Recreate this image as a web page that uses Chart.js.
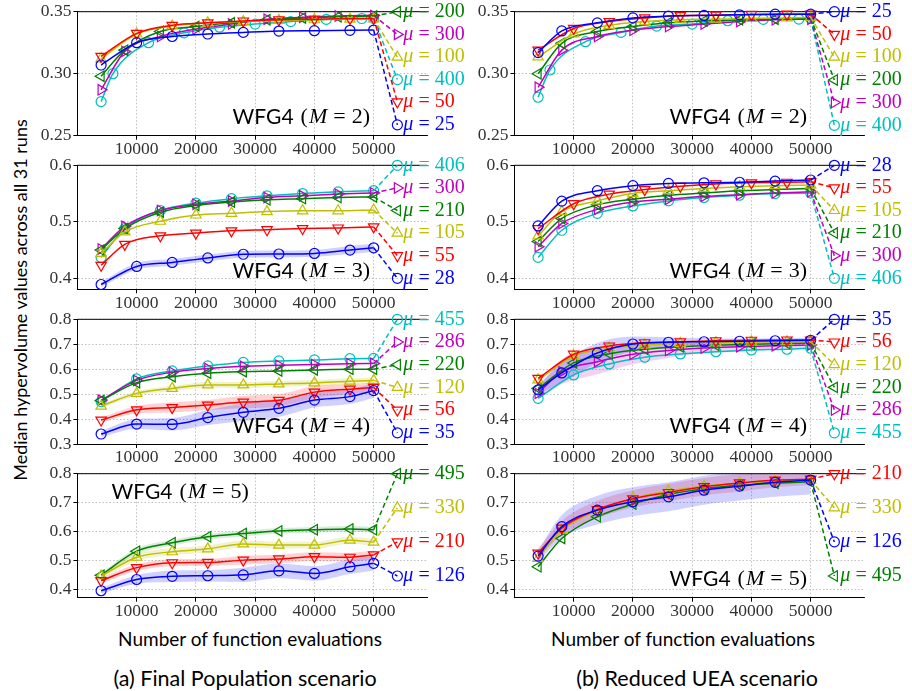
<!DOCTYPE html>
<html>
<head>
<meta charset="utf-8">
<script src="https://cdn.jsdelivr.net/npm/chart.js@4/dist/chart.umd.min.js"></script>
<style>
  body { margin: 0; background: #fff; width: 912px; height: 691px; position: relative; overflow: hidden; }
  canvas { position: absolute; }
  .txt { position: absolute; font-family: Lato, sans-serif; font-size: 19px; color: #000; white-space: nowrap; transform: translate(-50%, -50%); }
  .ytitle { font-size: 18px; transform: translate(-50%, -50%) rotate(-90deg); }
  .cap { font-size: 21.5px; }
</style>
</head>
<body>
<div class="txt ytitle" style="left:20px; top:300px;">Median hypervolume values across all 31 runs</div>
<div class="txt" style="left:250px; top:638px;">Number of function evaluations</div>
<div class="txt" style="left:683px; top:638px;">Number of function evaluations</div>
<div class="txt cap" style="left:245px; top:678px;">(a) Final Population scenario</div>
<div class="txt cap" style="left:697px; top:678px;">(b) Reduced UEA scenario</div>
<script>
/* =========================================
   DATA
   ========================================= */
const evalsA = [4000, 10000, 16000, 22000, 28000, 34000, 40000, 46000, 50000];
const evalsB = [4000, 8000, 14000, 20000, 26000, 32000, 38000, 44000, 50000];
const evalsC = [4000, 6000, 12000, 18000, 24000, 30000, 36000, 42000, 48000, 50000];
const xTicks = [10000, 20000, 30000, 40000, 50000];
const labelEval = 54000;

// (a) Final Population, M = 2
const fpM2Mu = [25, 50, 100, 200, 300, 400];
const fpM2Evals = [evalsA, evalsA, evalsA, evalsB, evalsB, evalsC];
const fpM2Hv = [
  [0.307, 0.325, 0.330, 0.332, 0.3333, 0.3344, 0.3347, 0.3350, 0.3352],
  [0.314, 0.3325, 0.339, 0.341, 0.3425, 0.3435, 0.344, 0.3445, 0.3446],
  [0.312, 0.332, 0.3385, 0.341, 0.342, 0.343, 0.3435, 0.344, 0.3442],
  [0.298, 0.319, 0.334, 0.338, 0.341, 0.3435, 0.345, 0.346, 0.3465],
  [0.287, 0.318, 0.330, 0.336, 0.340, 0.344, 0.3455, 0.3465, 0.347],
  [0.2775, 0.300, 0.325, 0.333, 0.3375, 0.340, 0.342, 0.3438, 0.3445, 0.3446]
];
const fpM2LabelY = [0.2587, 0.2773, 0.3133, 0.35, 0.3317, 0.2953];
const fpM2Ticks = [0.25, 0.30, 0.35];

// (b) Reduced UEA, M = 2
const ruM2Mu = [25, 50, 100, 200, 300, 400];
const ruM2Evals = [evalsB, evalsA, evalsA, evalsB, evalsB, evalsC];
const ruM2Hv = [
  [0.317, 0.3345, 0.341, 0.345, 0.3465, 0.347, 0.3475, 0.348, 0.348],
  [0.319, 0.3365, 0.342, 0.345, 0.3468, 0.3472, 0.3478, 0.348, 0.348],
  [0.3135, 0.332, 0.339, 0.342, 0.3435, 0.344, 0.3445, 0.345, 0.3455],
  [0.300, 0.3245, 0.334, 0.338, 0.341, 0.3425, 0.3435, 0.344, 0.345],
  [0.289, 0.319, 0.330, 0.335, 0.338, 0.340, 0.342, 0.3435, 0.344],
  [0.281, 0.303, 0.3258, 0.3333, 0.3384, 0.340, 0.3427, 0.3438, 0.3440, 0.3446]
];
const ruM2LabelY = [0.35, 0.3317, 0.3133, 0.295, 0.2767, 0.2583];

// (a) M = 3
const fpM3Mu = [28, 55, 105, 210, 300, 406];
const fpM3Evals = [evalsA, evalsB, evalsB, evalsB, evalsB, evalsB];
const fpM3Hv = [
  [0.389, 0.421, 0.428, 0.436, 0.4425, 0.443, 0.444, 0.450, 0.454],
  [0.423, 0.460, 0.4752, 0.480, 0.484, 0.486, 0.488, 0.489, 0.491],
  [0.444, 0.482, 0.501, 0.512, 0.515, 0.518, 0.5195, 0.5195, 0.521],
  [0.450, 0.488, 0.517, 0.529, 0.535, 0.539, 0.541, 0.543, 0.544],
  [0.452, 0.492, 0.520, 0.531, 0.537, 0.543, 0.546, 0.549, 0.551],
  [0.437, 0.488, 0.520, 0.533, 0.541, 0.546, 0.550, 0.553, 0.555]
];
const fpM3Spread = [[0.004, 0.006, 0.006, 0.006, 0.006, 0.006, 0.006, 0.007, 0.007], null, null, null, null, null];
const fpM3LabelY = [0.40, 0.44, 0.48, 0.52, 0.56, 0.60];
const m3Ticks = [0.4, 0.5, 0.6];

// (b) M = 3
const ruM3Mu = [28, 55, 105, 210, 300, 406];
const ruM3Evals = [evalsB, evalsA, evalsB, evalsB, evalsB, evalsB];
const ruM3Hv = [
  [0.4926, 0.5366, 0.555, 0.564, 0.568, 0.569, 0.570, 0.572, 0.574],
  [0.488, 0.532, 0.549, 0.557, 0.563, 0.567, 0.569, 0.570, 0.571],
  [0.475, 0.518, 0.537, 0.550, 0.555, 0.559, 0.562, 0.564, 0.565],
  [0.465, 0.506, 0.530, 0.540, 0.547, 0.551, 0.555, 0.557, 0.559],
  [0.456, 0.497, 0.522, 0.535, 0.540, 0.545, 0.548, 0.551, 0.553],
  [0.437, 0.485, 0.515, 0.528, 0.537, 0.543, 0.547, 0.550, 0.551]
];
const ruM3LabelY = [0.60, 0.56, 0.52, 0.48, 0.44, 0.40];

// (a) M = 4
const fpM4Mu = [35, 56, 120, 220, 286, 455];
const fpM4Evals = [evalsA, evalsA, evalsA, evalsA, evalsA, evalsA];
const fpM4Hv = [
  [0.340, 0.380, 0.379, 0.406, 0.427, 0.443, 0.476, 0.490, 0.514],
  [0.396, 0.437, 0.446, 0.456, 0.468, 0.475, 0.508, 0.520, 0.527],
  [0.452, 0.503, 0.523, 0.537, 0.537, 0.541, 0.545, 0.552, 0.555],
  [0.474, 0.546, 0.570, 0.584, 0.590, 0.593, 0.597, 0.600, 0.600],
  [0.476, 0.555, 0.588, 0.603, 0.612, 0.616, 0.619, 0.622, 0.623],
  [0.470, 0.561, 0.593, 0.613, 0.627, 0.633, 0.637, 0.642, 0.643]
];
const fpM4Spread = [
  [0.012, 0.02, 0.025, 0.03, 0.035, 0.035, 0.03, 0.03, 0.03],
  [0.01, 0.015, 0.02, 0.02, 0.025, 0.025, 0.025, 0.02, 0.02],
  [0.008, 0.01, 0.01, 0.012, 0.012, 0.012, 0.012, 0.012, 0.012],
  null, null, null
];
const fpM4LabelY = [0.345, 0.436, 0.527, 0.618, 0.709, 0.80];
const m4Ticks = [0.3, 0.4, 0.5, 0.6, 0.7, 0.8];

// (b) M = 4
const ruM4Mu = [35, 56, 120, 220, 286, 455];
const ruM4Evals = [evalsB, evalsA, evalsA, evalsA, evalsB, evalsA];
const ruM4Hv = [
  [0.517, 0.585, 0.665, 0.701, 0.708, 0.710, 0.712, 0.714, 0.716],
  [0.563, 0.660, 0.693, 0.706, 0.710, 0.714, 0.716, 0.717, 0.717],
  [0.557, 0.653, 0.684, 0.697, 0.703, 0.706, 0.709, 0.710, 0.710],
  [0.523, 0.625, 0.662, 0.680, 0.690, 0.696, 0.700, 0.703, 0.705],
  [0.503, 0.590, 0.630, 0.660, 0.675, 0.685, 0.690, 0.694, 0.697],
  [0.483, 0.577, 0.621, 0.648, 0.661, 0.670, 0.677, 0.680, 0.684]
];
const ruM4Spread = [
  [0.02, 0.04, 0.04, 0.03, 0.02, 0.015, 0.01, 0.01, 0.01],
  null, null, null,
  [0.02, 0.05, 0.05, 0.04, 0.03, 0.02, 0.02, 0.015, 0.015],
  null
];
const ruM4LabelY = [0.80, 0.709, 0.618, 0.527, 0.436, 0.345];

// (a) M = 5
const fpM5Mu = [126, 210, 330, 495];
const fpM5Evals = [evalsA, evalsA, evalsA, evalsA];
const fpM5Hv = [
  [0.395, 0.434, 0.445, 0.447, 0.450, 0.464, 0.455, 0.478, 0.490],
  [0.430, 0.475, 0.492, 0.493, 0.501, 0.505, 0.513, 0.511, 0.519],
  [0.446, 0.511, 0.530, 0.540, 0.557, 0.553, 0.553, 0.570, 0.563],
  [0.449, 0.532, 0.561, 0.582, 0.593, 0.602, 0.606, 0.609, 0.606]
];
const fpM5Spread = [
  [0.01, 0.015, 0.02, 0.02, 0.025, 0.025, 0.025, 0.025, 0.025],
  [0.01, 0.012, 0.012, 0.012, 0.015, 0.015, 0.015, 0.015, 0.015],
  [0.01, 0.012, 0.012, 0.012, 0.012, 0.012, 0.012, 0.012, 0.012],
  [0.008, 0.01, 0.01, 0.01, 0.01, 0.01, 0.01, 0.01, 0.01]
];
const fpM5LabelY = [0.446, 0.564, 0.682, 0.80];
const m5Ticks = [0.4, 0.5, 0.6, 0.7, 0.8];

// (b) M = 5
const ruM5Mu = [126, 210, 330, 495];
const ruM5Evals = [evalsB, evalsB, evalsB, evalsB];
const ruM5Hv = [
  [0.515, 0.617, 0.674, 0.703, 0.720, 0.743, 0.757, 0.770, 0.778],
  [0.525, 0.612, 0.676, 0.713, 0.735, 0.755, 0.768, 0.778, 0.781],
  [0.507, 0.605, 0.672, 0.715, 0.740, 0.757, 0.767, 0.774, 0.778],
  [0.478, 0.576, 0.651, 0.695, 0.728, 0.748, 0.760, 0.767, 0.772]
];
const ruM5Spread = [
  [0.02, 0.04, 0.05, 0.05, 0.05, 0.05, 0.05, 0.05, 0.05],
  [0.015, 0.025, 0.03, 0.03, 0.03, 0.03, 0.03, 0.025, 0.02],
  null, null
];
const ruM5LabelY = [0.564, 0.80, 0.682, 0.446];

/* =========================================
   STYLES & LAYOUT
   ========================================= */
const seriesStyles = [
  { color: '#0000ff', band: 'rgba(0,0,255,0.18)',   shape: 'circle',   rot: 0,   r: 5 },
  { color: '#ff0000', band: 'rgba(255,0,0,0.18)',   shape: 'triangle', rot: 180, r: 6 },
  { color: '#bfbf00', band: 'rgba(191,191,0,0.2)',  shape: 'triangle', rot: 0,   r: 6 },
  { color: '#008000', band: 'rgba(0,128,0,0.15)',   shape: 'triangle', rot: -90, r: 6 },
  { color: '#bf00bf', band: 'rgba(191,0,191,0.18)', shape: 'triangle', rot: 90,  r: 6 },
  { color: '#00bfbf', band: 'rgba(0,191,191,0.18)', shape: 'circle',   rot: 0,   r: 5 }
];
const colLeft = [77.4, 514.4], colRight = [427, 864];
const rowTop = [11.7, 165.3, 319.3, 473.7], rowBottom = [135.7, 289.3, 444, 597.7];
const serif = '"Liberation Serif", "DejaVu Serif", serif';

const panels = [
  { col: 0, row: 0, m: 2, mu: fpM2Mu, evals: fpM2Evals, hv: fpM2Hv, spread: null, labelY: fpM2LabelY, ticks: fpM2Ticks, yMin: 0.25, yMax: 0.35, dec: 2, corner: 'br' },
  { col: 1, row: 0, m: 2, mu: ruM2Mu, evals: ruM2Evals, hv: ruM2Hv, spread: null, labelY: ruM2LabelY, ticks: fpM2Ticks, yMin: 0.25, yMax: 0.35, dec: 2, corner: 'br' },
  { col: 0, row: 1, m: 3, mu: fpM3Mu, evals: fpM3Evals, hv: fpM3Hv, spread: fpM3Spread, labelY: fpM3LabelY, ticks: m3Ticks, yMin: 0.3805, yMax: 0.6, dec: 1, corner: 'br' },
  { col: 1, row: 1, m: 3, mu: ruM3Mu, evals: ruM3Evals, hv: ruM3Hv, spread: null, labelY: ruM3LabelY, ticks: m3Ticks, yMin: 0.3805, yMax: 0.6, dec: 1, corner: 'br' },
  { col: 0, row: 2, m: 4, mu: fpM4Mu, evals: fpM4Evals, hv: fpM4Hv, spread: fpM4Spread, labelY: fpM4LabelY, ticks: m4Ticks, yMin: 0.3, yMax: 0.8, dec: 1, corner: 'br' },
  { col: 1, row: 2, m: 4, mu: ruM4Mu, evals: ruM4Evals, hv: ruM4Hv, spread: ruM4Spread, labelY: ruM4LabelY, ticks: m4Ticks, yMin: 0.3, yMax: 0.8, dec: 1, corner: 'br' },
  { col: 0, row: 3, m: 5, mu: fpM5Mu, evals: fpM5Evals, hv: fpM5Hv, spread: fpM5Spread, labelY: fpM5LabelY, ticks: m5Ticks, yMin: 0.371, yMax: 0.8, dec: 1, corner: 'tl' },
  { col: 1, row: 3, m: 5, mu: ruM5Mu, evals: ruM5Evals, hv: ruM5Hv, spread: ruM5Spread, labelY: ruM5LabelY, ticks: m5Ticks, yMin: 0.371, yMax: 0.8, dec: 1, corner: 'br' }
];

/* =========================================
   DATASET BUILDER
   ========================================= */
function buildDatasets(p) {
  const ds = [];
  p.hv.forEach((vals, i) => {
    const st = seriesStyles[i];
    const xs = p.evals[i];
    const sp = p.spread ? p.spread[i] : null;
    if (sp) {
      ds.push({ data: vals.map((v, j) => ({ x: xs[j], y: v - sp[j] })), borderWidth: 0, pointRadius: 0,
                fill: false, cubicInterpolationMode: 'monotone', order: 5 });
      ds.push({ data: vals.map((v, j) => ({ x: xs[j], y: v + sp[j] })), borderWidth: 0, pointRadius: 0,
                fill: '-1', backgroundColor: st.band, cubicInterpolationMode: 'monotone', order: 5 });
    }
    // main curve with hollow markers
    ds.push({
      data: vals.map((v, j) => ({ x: xs[j], y: v })),
      borderColor: st.color, borderWidth: 1.5, fill: false,
      cubicInterpolationMode: 'monotone',
      pointStyle: st.shape, pointRotation: st.rot, pointRadius: st.r,
      pointBorderColor: st.color, pointBackgroundColor: 'rgba(0,0,0,0)', pointBorderWidth: 1.2,
      clip: false, order: 1
    });
    // dashed leader to the label
    ds.push({
      data: [{ x: xs[xs.length - 1], y: vals[vals.length - 1] }, { x: labelEval, y: p.labelY[i] }],
      borderColor: st.color, borderWidth: 1.5, borderDash: [5, 3], fill: false, tension: 0,
      pointStyle: st.shape, pointRotation: st.rot, pointRadius: [0, st.r],
      pointBorderColor: st.color, pointBackgroundColor: 'rgba(0,0,0,0)', pointBorderWidth: 1.2,
      clip: false, order: 0
    });
  });
  return ds;
}

/* =========================================
   PANEL DECORATIONS (labels, title, top spine)
   ========================================= */
function panelPlugin(p) {
  return {
    id: 'panelDeco',
    beforeDatasetsDraw(chart) {
      const { ctx, chartArea: a } = chart;
      ctx.save();
      ctx.strokeStyle = '#000';
      ctx.lineWidth = 1;
      ctx.beginPath();
      ctx.moveTo(a.left, a.top);
      ctx.lineTo(a.right, a.top);
      ctx.stroke();
      ctx.restore();
    },
    afterDatasetsDraw(chart) {
      const { ctx, chartArea: a, scales } = chart;
      ctx.save();
      ctx.textBaseline = 'middle';
      ctx.textAlign = 'left';
      // mu labels
      p.mu.forEach((m, i) => {
        const px = scales.x.getPixelForValue(labelEval) + 6;
        const py = scales.y.getPixelForValue(p.labelY[i]);
        ctx.fillStyle = seriesStyles[i].color;
        ctx.font = 'italic 20px ' + serif;
        ctx.fillText('\u03bc', px, py);
        const w = ctx.measureText('\u03bc').width;
        ctx.font = '20px ' + serif;
        ctx.fillText(' = ' + m, px + w, py);
      });
      // panel title
      const parts = [
        { t: 'WFG4', f: '21px Lato, sans-serif', gap: 7 },
        { t: '(', f: '22px ' + serif, gap: 1 },
        { t: 'M', f: 'italic 22px ' + serif, gap: 6 },
        { t: '=', f: '22px ' + serif, gap: 6 },
        { t: p.m + ')', f: '22px ' + serif, gap: 0 }
      ];
      let total = 0;
      parts.forEach(q => { ctx.font = q.f; q.w = ctx.measureText(q.t).width; total += q.w + q.gap; });
      let x, y;
      if (p.corner === 'br') { x = a.right - 57 - total; y = a.bottom - 18; }
      else { x = a.left + 34; y = a.top + 19; }
      ctx.fillStyle = '#000';
      parts.forEach(q => { ctx.font = q.f; ctx.fillText(q.t, x, y); x += q.w + q.gap; });
      ctx.restore();
    }
  };
}

/* =========================================
   CHART ENGINE
   ========================================= */
function makePanel(p) {
  const L = colLeft[p.col], R = colRight[p.col];
  const T = rowTop[p.row], B = rowBottom[p.row];
  const cl = Math.floor(L - 52), ct = Math.floor(T - 14);
  const cw = Math.ceil(R + 46) - cl, ch = Math.ceil(B + 28) - ct;
  const canvas = document.createElement('canvas');
  canvas.width = cw; canvas.height = ch;
  canvas.style.left = cl + 'px'; canvas.style.top = ct + 'px';
  canvas.style.width = cw + 'px'; canvas.style.height = ch + 'px';
  document.body.appendChild(canvas);

  const tickFont = { family: serif, size: 17.5, lineHeight: 1.1 };
  const grid = { color: '#b0b0b0', lineWidth: 0.8, drawTicks: true, tickLength: 4, tickColor: '#000', tickWidth: 1 };
  const border = { display: true, color: '#000', width: 1, dash: [1.5, 2] };

  new Chart(canvas, {
    type: 'line',
    data: { datasets: buildDatasets(p) },
    options: {
      responsive: false, animation: false, devicePixelRatio: 1,
      layout: { autoPadding: false, padding: { left: 0, top: T - ct, right: cw - (R - cl), bottom: 0 } },
      plugins: { legend: { display: false }, tooltip: { enabled: false }, filler: { drawTime: 'beforeDatasetsDraw' } },
      scales: {
        x: {
          type: 'linear', min: 0, max: 59000,
          afterBuildTicks: s => { s.ticks = xTicks.map(v => ({ value: v })); },
          afterFit: s => { s.height = ct + ch - B; },
          ticks: { font: tickFont, color: '#333', padding: 0, maxRotation: 0, minRotation: 0, autoSkip: false, callback: v => String(v) },
          grid, border
        },
        y: {
          type: 'linear', min: p.yMin, max: p.yMax,
          afterBuildTicks: s => { s.ticks = p.ticks.map(v => ({ value: v })); },
          afterFit: s => { s.width = L - cl; },
          ticks: { font: tickFont, color: '#333', padding: 2, autoSkip: false, callback: v => v.toFixed(p.dec) },
          grid, border
        }
      }
    },
    plugins: [panelPlugin(p)]
  });
}

panels.forEach(makePanel);
</script>
</body>
</html>
